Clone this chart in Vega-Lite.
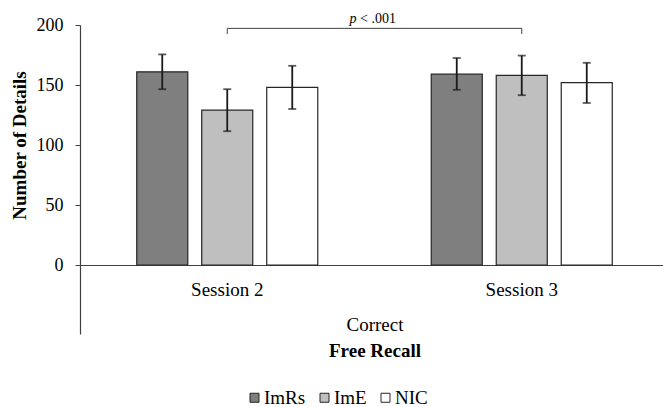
{
  "$schema": "https://vega.github.io/schema/vega-lite/v6.json",
  "width": 583,
  "height": 309,
  "autosize": {"type": "none"},
  "padding": {"left": 80, "top": 25, "right": 0, "bottom": 73},
  "config": {
    "view": {"stroke": null},
    "font": "Liberation Serif",
    "axis": {"labelFont": "Liberation Serif", "titleFont": "Liberation Serif", "labelColor": "#000", "titleColor": "#000", "grid": false},
    "legend": {"labelFont": "Liberation Serif", "titleFont": "Liberation Serif"}
  },
  "datasets": {
    "main": [
      {"session": "Session 2", "condition": "ImRs", "mean": 161, "lo": 146.5, "hi": 175.5},
      {"session": "Session 2", "condition": "ImE", "mean": 129, "lo": 111.5, "hi": 146.5},
      {"session": "Session 2", "condition": "NIC", "mean": 148, "lo": 130, "hi": 166},
      {"session": "Session 3", "condition": "ImRs", "mean": 159, "lo": 146, "hi": 172.5},
      {"session": "Session 3", "condition": "ImE", "mean": 158, "lo": 141.5, "hi": 174.5},
      {"session": "Session 3", "condition": "NIC", "mean": 152, "lo": 135, "hi": 168.5}
    ],
    "bracket": [{"from": "Session 2", "to": "Session 3", "y": 197.2}],
    "bracketEnds": [
      {"session": "Session 2", "ylo": 192.5, "yhi": 197.2},
      {"session": "Session 3", "ylo": 192.5, "yhi": 197.2}
    ],
    "pText": [{"session": "Session 2", "y": 201.3, "label": "p"}],
    "restText": [{"session": "Session 2", "y": 201.3, "label": "< .001"}]
  },
  "resolve": {"axis": {"x": "independent"}},
  "layer": [
    {
      "layer": [
        {
          "data": {"name": "main"},
          "mark": {"type": "bar", "stroke": "#262626", "strokeWidth": 1.2},
          "encoding": {
            "x": {
              "field": "session", "type": "nominal", "sort": ["Session 2", "Session 3"],
              "scale": {"range": [0, 589], "paddingInner": 0, "paddingOuter": 0},
              "axis": {"orient": "bottom", "offset": -69, "ticks": false, "domainColor": "#404040", "domainWidth": 1.2, "labelAngle": 0, "labelFont": "Liberation Serif", "labelFontSize": 19, "labelPadding": 15, "title": "Correct", "titleFont": "Liberation Serif", "titleFontSize": 19, "titleFontWeight": "normal", "titleY": 65, "titleBaseline": "alphabetic"}
            },
            "xOffset": {"field": "condition", "type": "nominal", "sort": ["ImRs", "ImE", "NIC"], "scale": {"paddingInner": 0.215, "paddingOuter": 0.873}},
            "y": {
              "field": "mean", "type": "quantitative",
              "scale": {"domain": [-57.5, 200], "nice": false, "zero": false},
              "axis": {"values": [0, 50, 100, 150, 200], "tickSize": 5, "tickColor": "#404040", "domainColor": "#404040", "domainWidth": 1.2, "labelFont": "Liberation Serif", "labelFontSize": 18, "labelPadding": 12, "title": "Number of Details", "titleFont": "Liberation Serif", "titleFontSize": 19, "titleFontWeight": "bold", "titleX": -55, "titleY": 120, "titleBaseline": "alphabetic"}
            },
            "y2": {"datum": 0},
            "fill": {
              "field": "condition", "type": "nominal", "sort": ["ImRs", "ImE", "NIC"],
              "scale": {"domain": ["ImRs", "ImE", "NIC"], "range": ["#7f7f7f", "#bfbfbf", "#ffffff"]},
              "legend": {"orient": "none", "legendX": 165, "legendY": 363, "direction": "horizontal", "title": null, "symbolType": "square", "symbolSize": 81, "symbolStrokeColor": "#262626", "symbolStrokeWidth": 1, "labelFontSize": 19, "labelFont": "Liberation Serif", "labelColor": "#000", "labelOffset": 0, "columnPadding": 9, "padding": 0}
            }
          }
        },
        {
          "data": {"name": "main"},
          "mark": {"type": "rule", "color": "#1a1a1a", "strokeWidth": 1.8},
          "encoding": {
            "x": {"field": "session", "type": "nominal"},
            "xOffset": {"field": "condition", "type": "nominal", "sort": ["ImRs", "ImE", "NIC"]},
            "y": {"field": "lo", "type": "quantitative"},
            "y2": {"field": "hi"}
          }
        },
        {
          "data": {"name": "main"},
          "mark": {"type": "tick", "color": "#1a1a1a", "size": 8, "thickness": 1.8},
          "encoding": {
            "x": {"field": "session", "type": "nominal"},
            "xOffset": {"field": "condition", "type": "nominal", "sort": ["ImRs", "ImE", "NIC"]},
            "y": {"field": "lo", "type": "quantitative"}
          }
        },
        {
          "data": {"name": "main"},
          "mark": {"type": "tick", "color": "#1a1a1a", "size": 8, "thickness": 1.8},
          "encoding": {
            "x": {"field": "session", "type": "nominal"},
            "xOffset": {"field": "condition", "type": "nominal", "sort": ["ImRs", "ImE", "NIC"]},
            "y": {"field": "hi", "type": "quantitative"}
          }
        },
        {
          "data": {"name": "bracket"},
          "mark": {"type": "rule", "color": "#404040", "strokeWidth": 1},
          "encoding": {
            "x": {"field": "from", "type": "nominal"},
            "x2": {"field": "to"},
            "y": {"field": "y", "type": "quantitative"}
          }
        },
        {
          "data": {"name": "pText"},
          "mark": {"type": "text", "font": "Liberation Serif", "fontSize": 14, "fontStyle": "italic", "align": "left", "baseline": "alphabetic", "dx": -25, "color": "#000"},
          "encoding": {
            "x": {"field": "session", "type": "nominal", "bandPosition": 1},
            "y": {"field": "y", "type": "quantitative"},
            "text": {"field": "label"}
          }
        },
        {
          "data": {"name": "restText"},
          "mark": {"type": "text", "font": "Liberation Serif", "fontSize": 14, "align": "left", "baseline": "alphabetic", "dx": -14.5, "color": "#000"},
          "encoding": {
            "x": {"field": "session", "type": "nominal", "bandPosition": 1},
            "y": {"field": "y", "type": "quantitative"},
            "text": {"field": "label"}
          }
        }
      ]
    },
    {
      "data": {"name": "bracketEnds"},
      "mark": {"type": "rule", "color": "#404040", "strokeWidth": 1},
      "encoding": {
        "x": {
          "field": "session", "type": "nominal",
          "axis": {"orient": "bottom", "offset": -69, "domain": false, "labels": false, "ticks": false, "title": "Free Recall", "titleFont": "Liberation Serif", "titleFontSize": 19, "titleFontWeight": "bold", "titleY": 91, "titleBaseline": "alphabetic"}
        },
        "y": {"field": "ylo", "type": "quantitative"},
        "y2": {"field": "yhi"}
      }
    }
  ]
}
